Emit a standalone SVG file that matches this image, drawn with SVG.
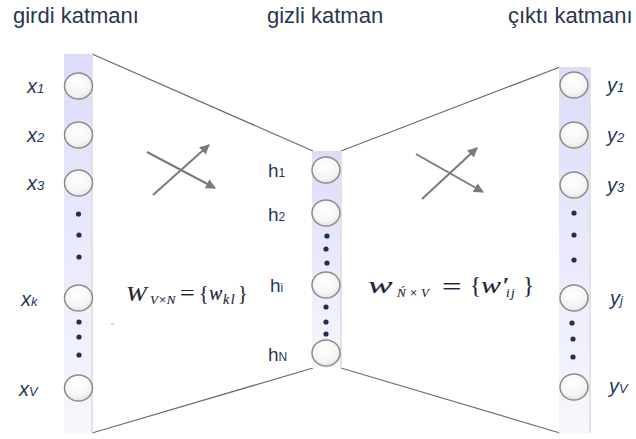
<svg xmlns="http://www.w3.org/2000/svg" width="636" height="439" viewBox="0 0 636 439">
<defs>
<linearGradient id="bar" x1="0" y1="0" x2="0" y2="1">
<stop offset="0" stop-color="#dcdcf9"/>
<stop offset="1" stop-color="#f7f7fd"/>
</linearGradient>
<radialGradient id="node" cx="0.45" cy="0.35" r="0.7">
<stop offset="0" stop-color="#ffffff"/>
<stop offset="0.7" stop-color="#f4f4f4"/>
<stop offset="1" stop-color="#dcdcdc"/>
</radialGradient>
<marker id="ah" viewBox="0 0 10 10" refX="9" refY="5" markerWidth="5" markerHeight="5" orient="auto" markerUnits="strokeWidth">
<path d="M0,0 L10,5 L0,10 z" fill="#7a7a7a"/>
</marker>
</defs>
<style>
.bar{fill:url(#bar)}
.edge{stroke:#e2e2e6;stroke-width:2}
.n{fill:url(#node);stroke:#8c8c8c;stroke-width:1.5}
.d{fill:#1d3250}
.title{font-family:"Liberation Sans",Arial,sans-serif;font-size:22px;fill:#2a3550}
.lbl{font-family:"Liberation Sans",Arial,sans-serif;font-size:20px;font-style:italic;fill:#22385e}
.sub{font-size:13px}
.h{font-family:"Liberation Sans",Arial,sans-serif;font-size:19px;fill:#22385e}
.hs{font-size:12px}
.frm{font-family:"Liberation Serif","Times New Roman",serif;font-style:italic;fill:#1e2538;stroke:#1e2538;stroke-width:0.15}
.up{font-style:normal}
.ln{stroke:#6e6e6e;stroke-width:1.3;fill:none}
.ar{stroke:#7a7a7a;stroke-width:2;fill:none;marker-end:url(#ah)}
</style>
<rect width="636" height="439" fill="#ffffff"/>

<g id="titles">
<text class="title" x="13" y="23">girdi katmanı</text>
<text class="title" x="267" y="23">gizli katman</text>
<text class="title" x="508" y="23">çıktı katmanı</text>
</g>

<g id="connectors">
<line class="ln" x1="92" y1="54" x2="313" y2="151"/>
<line class="ln" x1="92" y1="433" x2="313" y2="368"/>
<line class="ln" x1="341" y1="151" x2="560" y2="67"/>
<line class="ln" x1="341" y1="368" x2="560" y2="433"/>
<line class="ar" x1="147" y1="152" x2="215" y2="188"/>
<line class="ar" x1="153" y1="195" x2="209" y2="145"/>
<line class="ar" x1="416" y1="154" x2="483" y2="192"/>
<line class="ar" x1="422" y1="199" x2="477" y2="148"/>
</g>

<g id="input-layer">
<rect class="bar" x="64" y="54" width="28" height="379"/>
<line class="edge" x1="92" y1="54" x2="92" y2="433"/>
<g id="x1"><ellipse class="n" cx="78.5" cy="86" rx="14" ry="13"/><text class="lbl" x="27" y="93">x<tspan class="sub">1</tspan></text></g>
<g id="x2"><ellipse class="n" cx="78.5" cy="135" rx="14" ry="13"/><text class="lbl" x="27" y="142">x<tspan class="sub">2</tspan></text></g>
<g id="x3"><ellipse class="n" cx="78.5" cy="183" rx="14" ry="13"/><text class="lbl" x="27" y="190">x<tspan class="sub">3</tspan></text></g>
<circle class="d" cx="78.5" cy="214" r="2.6"/>
<circle class="d" cx="79" cy="235" r="2.6"/>
<circle class="d" cx="79" cy="257" r="2.6"/>
<g id="xk"><ellipse class="n" cx="78.5" cy="298" rx="14" ry="13"/><text class="lbl" x="21" y="306">x<tspan class="sub">k</tspan></text></g>
<circle class="d" cx="79" cy="322" r="2.6"/>
<circle class="d" cx="79" cy="337" r="2.6"/>
<circle class="d" cx="79" cy="355" r="2.6"/>
<g id="xv"><ellipse class="n" cx="78.5" cy="388" rx="14" ry="13"/><text class="lbl" x="19" y="396">x<tspan class="sub">V</tspan></text></g>
</g>

<g id="hidden-layer">
<rect class="bar" x="312" y="151" width="29" height="217"/>
<line class="edge" x1="341" y1="151" x2="341" y2="368"/>
<g id="h1"><ellipse class="n" cx="326" cy="170" rx="14" ry="13"/><text class="h" x="268" y="177">h<tspan class="hs">1</tspan></text></g>
<g id="h2"><ellipse class="n" cx="326" cy="213" rx="14" ry="13"/><text class="h" x="268" y="221">h<tspan class="hs">2</tspan></text></g>
<circle class="d" cx="327" cy="236" r="2.6"/>
<circle class="d" cx="326" cy="249" r="2.6"/>
<circle class="d" cx="327" cy="263" r="2.6"/>
<g id="hi"><ellipse class="n" cx="326" cy="285" rx="14" ry="13"/><text class="h" x="270" y="292">h<tspan class="hs">i</tspan></text></g>
<circle class="d" cx="326" cy="307" r="2.6"/>
<circle class="d" cx="326" cy="322" r="2.6"/>
<circle class="d" cx="326" cy="334" r="2.6"/>
<g id="hN"><ellipse class="n" cx="326" cy="353" rx="14" ry="13"/><text class="h" x="268" y="361">h<tspan class="hs">N</tspan></text></g>
</g>

<g id="output-layer">
<rect class="bar" x="559" y="67" width="31" height="366"/>
<line class="edge" x1="590" y1="67" x2="590" y2="433"/>
<g id="y1"><ellipse class="n" cx="574" cy="85" rx="14" ry="13"/><text class="lbl" x="607" y="92">y<tspan class="sub">1</tspan></text></g>
<g id="y2"><ellipse class="n" cx="574" cy="135" rx="14" ry="13"/><text class="lbl" x="607" y="142">y<tspan class="sub">2</tspan></text></g>
<g id="y3"><ellipse class="n" cx="574" cy="185" rx="14" ry="13"/><text class="lbl" x="607" y="192">y<tspan class="sub">3</tspan></text></g>
<circle class="d" cx="574" cy="213" r="2.6"/>
<circle class="d" cx="574" cy="235" r="2.6"/>
<circle class="d" cx="574" cy="260" r="2.6"/>
<g id="yj"><ellipse class="n" cx="574" cy="298" rx="14" ry="13"/><text class="lbl" x="610" y="305">y<tspan class="sub">j</tspan></text></g>
<circle class="d" cx="572" cy="323" r="2.6"/>
<circle class="d" cx="573" cy="339" r="2.6"/>
<circle class="d" cx="573" cy="357" r="2.6"/>
<g id="yv"><ellipse class="n" cx="574" cy="387" rx="14" ry="13"/><text class="lbl" x="609" y="393">y<tspan class="sub">V</tspan></text></g>
</g>

<g id="formula-left" class="frm">
<text transform="translate(126,301) scale(1.25,1)" font-size="20">W</text>
<text x="150" y="304" font-size="13">V×N</text>
<text class="up" transform="translate(180,300) scale(1.3,1)" font-size="20">=</text>
<text class="up" x="199" y="300" font-size="20">{</text>
<text x="209" y="300" font-size="20">w</text>
<text x="223" y="304" font-size="14" letter-spacing="1.5">kl</text>
<text class="up" x="238" y="300" font-size="20">}</text>
</g>

<g id="formula-right" class="frm">
<text transform="translate(368,293) scale(1.6,1)" font-size="23">w</text>
<text x="397" y="297" font-size="13">Ń</text>
<text x="409" y="297" font-size="13">×</text>
<text x="421" y="297" font-size="13">V</text>
<text class="up" transform="translate(442,294) scale(1.5,1)" font-size="23">=</text>
<text class="up" x="470" y="293" font-size="23">{</text>
<text transform="translate(481,293) scale(1.3,1)" font-size="23">w′</text>
<text x="506" y="297" font-size="13" letter-spacing="1.5">ij</text>
<text class="up" x="523" y="293" font-size="23">}</text>
</g>

<rect x="111" y="323.5" width="3" height="1.2" fill="#e8a0b0"/>
</svg>
